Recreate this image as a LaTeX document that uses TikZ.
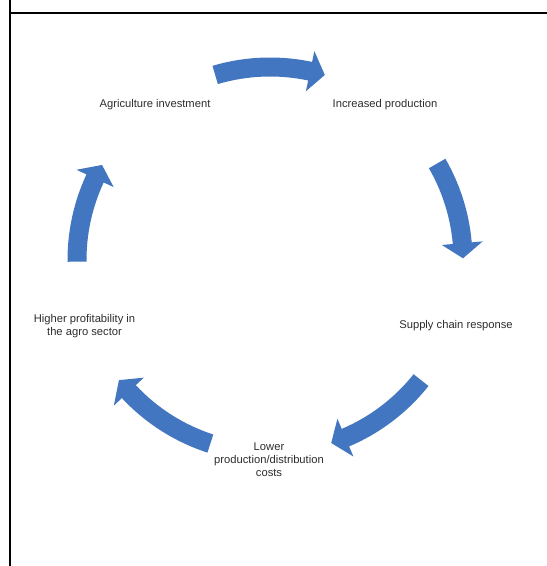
\documentclass[tikz,border=0pt]{standalone}
\usepackage{fontspec}
\setmainfont{Liberation Sans}
\definecolor{arrowblue}{RGB}{66,118,192}
\definecolor{labelgray}{RGB}{45,45,45}
\tikzset{
  arrowbody/.style={fill=arrowblue},
  label text/.style={text=labelgray, align=center, inner sep=0pt,
    font=\fontsize{11.2}{12.8}\selectfont},
  frame line/.style={line width=2pt, black}
}
% #1 tail angle, #2 tip angle (clockwise arc arrow around the cycle centre)
\newcommand\cycarrow[2]{%
  \fill[arrowbody] (#1:202.5pt) arc[start angle=#1, end angle=#2+4.5, radius=202.5pt]
    -- (#2+4.5:213.5pt) -- (#2:193pt) -- (#2+4.5:172.5pt) -- (#2+4.5:183.5pt)
    arc[start angle=#2+4.5, end angle=#1, radius=183.5pt] -- cycle;}
\begin{document}
\begin{tikzpicture}[x=1pt,y=1pt]
\useasboundingbox (0,0) rectangle (547,566);
\fill[white] (0,0) rectangle (547,566);
% frame
\coordinate (ftop) at (10,566);
\coordinate (fbot) at (10,0);
\coordinate (fl) at (10,552.7);
\coordinate (fr) at (547,552.7);
\draw[frame line] (fbot) -- (ftop);
\draw[frame line] (fl) -- (fr);
% cycle arrows
\begin{scope}[shift={(270,306)}]
  \cycarrow{106.5}{73.5}
  \cycarrow{30}{0.5}
  \cycarrow{-38.5}{-71.5}
  \cycarrow{-108}{-141.5}
  \cycarrow{180.5}{150.5}
\end{scope}
% labels
\node[label text] (ag) at (155,461.5) {Agriculture investment};
\node[label text] (ip) at (385,461.5) {Increased production};
\node[label text] (sc) at (456,240.5) {Supply chain response};
\node[label text] (lc) at (269,106) {Lower\\production/distribution\\costs};
\node[label text] (hp) at (84.5,240) {Higher profitability in\\the agro sector};
\end{tikzpicture}
\end{document}
